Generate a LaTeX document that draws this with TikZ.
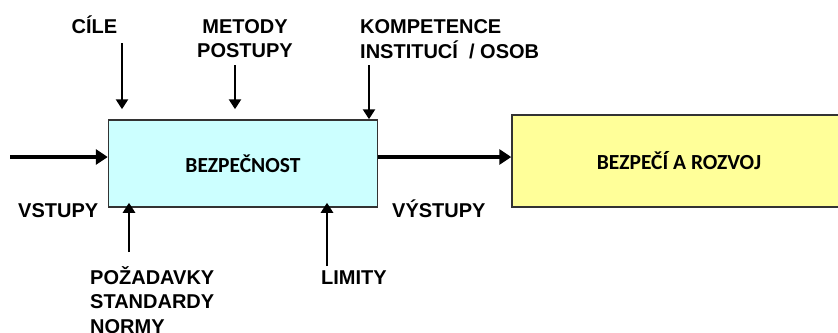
\documentclass[tikz,border=0pt]{standalone}
\usepackage{fontspec}
\setmainfont{Liberation Sans}
\newfontfamily\boxfont{Carlito}
\usetikzlibrary{arrows.meta}
\definecolor{procfill}{HTML}{CCFFFF}
\definecolor{goalfill}{HTML}{FFFF99}
\definecolor{edgegray}{HTML}{333333}
\begin{document}
\begin{tikzpicture}[x=1pt,y=-1pt,
  lbl/.style={font=\fontsize{20}{24.5}\selectfont\bfseries, inner sep=0pt},
  boxtxt/.style={font=\boxfont\fontsize{21.5}{24}\selectfont\bfseries},
  block/.style={draw=edgegray, line width=1.5pt, boxtxt},
  flow/.style={line width=4pt, -{Triangle[length=12pt,width=15pt]}},
  side/.style={line width=2.6pt, -{Triangle[length=10pt,width=12pt]}}]
\clip (0,0) rectangle (838,332);
\fill[white] (0,0) rectangle (838,332);

% process and result blocks
\node[block, fill=procfill, minimum width=269pt, minimum height=87pt] (proc) at (243,163.5) {BEZPEČNOST};
\node[block, fill=goalfill, minimum width=334pt, minimum height=92pt] (goal) at (679,161) {BEZPEČÍ A ROZVOJ};

% labels (multi-line labels are placed by the baseline of their last line)
\node[lbl, anchor=base] (cile) at (94.5,33) {CÍLE};
\node[lbl, anchor=base, align=center] (metody) at (245,57.5) {METODY\\POSTUPY};
\node[lbl, anchor=base west, align=left] (komp) at (360,58) {KOMPETENCE\\INSTITUCÍ~~/~OSOB};
\node[lbl, anchor=base west] (vstupy) at (18,217) {VSTUPY};
\node[lbl, anchor=base west] (vystupy) at (392,217) {VÝSTUPY};
\node[lbl, anchor=base west, align=left] (pozad) at (90,333) {POŽADAVKY\\STANDARDY\\NORMY};
\node[lbl, anchor=base west] (limity) at (321,284) {LIMITY};

% free ends of the connectors
\coordinate (in) at (10,157);
\coordinate (cA) at (122,43);
\coordinate (cB) at (235,65);
\coordinate (cC) at (369,65);
\coordinate (cD) at (129,252);
\coordinate (cE) at (327,266);

% main flow
\draw[flow] (in) -- (in -| proc.west);
\draw[flow] (proc.east |- in) -- (in -| goal.west);

% controls from above
\draw[side, shorten >=10pt] (cA) -- (cA |- proc.north);
\draw[side, shorten >=10pt] (cB) -- (cB |- proc.north);
\draw[side] (cC) -- (cC |- proc.north);

% mechanisms from below, tips reaching just inside the block
\draw[side, shorten >=-5pt] (cD) -- (cD |- proc.south);
\draw[side, shorten >=-5pt] (cE) -- (cE |- proc.south);
\end{tikzpicture}
\end{document}
